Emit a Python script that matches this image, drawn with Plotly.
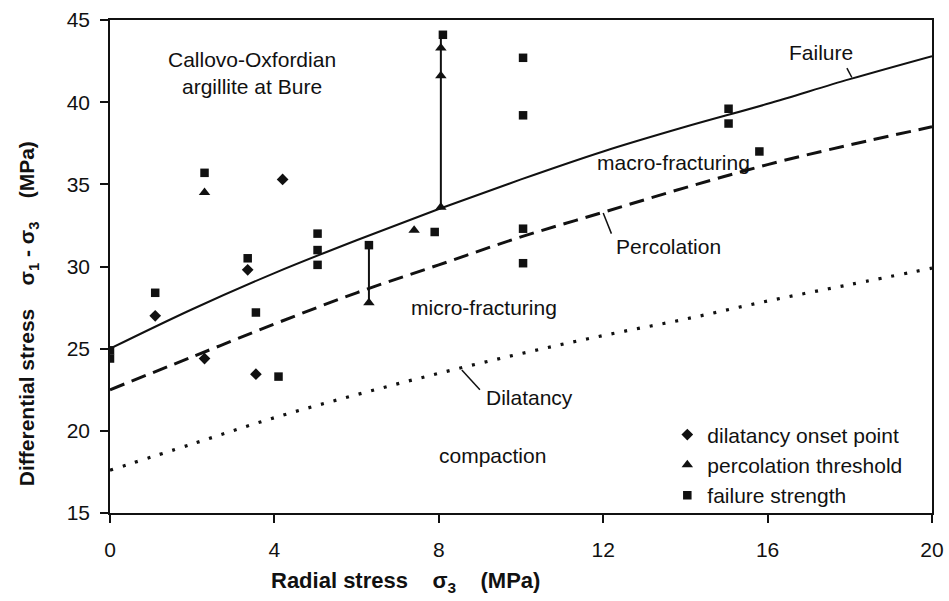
import plotly.graph_objects as go

# Envelope curves, sampled along the radial stress axis (MPa)
curve_x = [0, 2, 4, 6, 8, 10, 12, 14, 16, 18, 20]
failure_y = [25.0, 27.4, 29.6, 31.6, 33.5, 35.3, 37.0, 38.5, 39.9, 41.4, 42.8]
percolation_y = [22.5, 24.5, 26.5, 28.4, 30.1, 31.8, 33.3, 34.8, 36.2, 37.4, 38.5]
dilatancy_y = [17.6, 19.2, 20.8, 22.2, 23.5, 24.7, 25.8, 26.8, 27.9, 28.9, 29.9]

# Measured points
onset_x = [1.1, 2.3, 3.35, 3.55, 4.2]
onset_y = [27.0, 24.4, 29.8, 23.45, 35.3]

perc_x = [2.3, 6.3, 7.4, 8.05, 8.05, 8.05]
perc_y = [34.5, 27.8, 32.2, 33.6, 41.6, 43.3]

fail_x = [0, 0, 1.1, 2.3, 3.35, 3.55, 4.1, 5.05, 5.05, 5.05, 6.3,
          7.9, 8.1, 10.05, 10.05, 10.05, 10.05, 15.05, 15.05, 15.8]
fail_y = [24.9, 24.4, 28.4, 35.7, 30.5, 27.2, 23.3, 32.0, 31.0, 30.1, 31.3,
          32.1, 44.1, 42.7, 39.2, 32.3, 30.2, 39.6, 38.7, 37.0]

# Vertical links between percolation and failure of the same sample
link_x = [6.3, 6.3, None, 8.05, 8.05]
link_y = [31.3, 27.8, None, 33.6, 44.1]

x_ticks = [0, 4, 8, 12, 16, 20]
y_ticks = [15, 20, 25, 30, 35, 40, 45]

FONT = "Liberation Sans, Arial, sans-serif"
INK = "#111111"
SP = "&nbsp;" * 4

fig = go.Figure()

fig.add_trace(go.Scatter(x=curve_x, y=failure_y, mode="lines", line_shape="spline",
                         line=dict(color=INK, width=2), showlegend=False, hoverinfo="skip"))
fig.add_trace(go.Scatter(x=curve_x, y=percolation_y, mode="lines", line_shape="spline",
                         line=dict(color=INK, width=3, dash="15px,8px"),
                         showlegend=False, hoverinfo="skip"))
fig.add_trace(go.Scatter(x=curve_x, y=dilatancy_y, mode="lines", line_shape="spline",
                         line=dict(color=INK, width=3.2, dash="3px,10px"),
                         showlegend=False, hoverinfo="skip"))
fig.add_trace(go.Scatter(x=link_x, y=link_y, mode="lines",
                         line=dict(color=INK, width=2), showlegend=False, hoverinfo="skip"))

fig.add_trace(go.Scatter(x=onset_x, y=onset_y, mode="markers", name="dilatancy onset point",
                         marker=dict(symbol="diamond", size=9, color=INK), legendgroup="a"))
fig.add_trace(go.Scatter(x=perc_x, y=perc_y, mode="markers", name="percolation threshold",
                         marker=dict(symbol="triangle-up", size=10, color=INK), legendgroup="b"))
fig.add_trace(go.Scatter(x=fail_x, y=fail_y, mode="markers", name="failure strength",
                         marker=dict(symbol="square", size=8.5, color=INK), legendgroup="c"))

ann_font = dict(family=FONT, size=21, color=INK)
labels = [
    (3.45, 41.8, "Callovo-Oxfordian<br>argillite at Bure"),
    (17.3, 43.0, "Failure"),
    (13.7, 36.3, "macro-fracturing"),
    (13.6, 31.2, "Percolation"),
    (9.1, 27.5, "micro-fracturing"),
    (10.2, 22.0, "Dilatancy"),
    (9.3, 18.5, "compaction"),
]
for lx, ly, txt in labels:
    fig.add_annotation(x=lx, y=ly, xref="x", yref="y", text=txt, showarrow=False,
                       font=ann_font, align="center")

# Short leader ticks from labels to their curves
for x0, y0, x1, y1 in [(17.93, 42.07, 18.05, 41.5),
                       (12.0, 33.25, 12.2, 32.0),
                       (8.56, 23.7, 9.0, 22.5)]:
    fig.add_shape(type="line", x0=x0, y0=y0, x1=x1, y1=y1, xref="x", yref="y",
                  line=dict(color=INK, width=1.5))

# Axis titles
fig.add_annotation(x=0.359, y=-0.172, xref="paper", yref="paper",
                   text=f"<b>Radial stress{SP}σ<sub>3</sub>{SP}(MPa)</b>", showarrow=False,
                   font=dict(family=FONT, size=22, color=INK))
fig.add_annotation(x=-0.117, y=0.405, xref="paper", yref="paper", textangle=-90,
                   text=f"<b>Differential stress{SP}σ<sub>1</sub> - σ<sub>3</sub>{SP}(MPa)</b>",
                   showarrow=False, font=dict(family=FONT, size=21, color=INK))

axis_common = dict(showline=True, mirror=True, linecolor=INK, linewidth=1.5,
                   ticks="outside", ticklen=8, tickwidth=1.5, tickcolor=INK,
                   showgrid=False, zeroline=False, automargin=False,
                   tickfont=dict(family=FONT, size=21, color=INK))

fig.update_layout(
    width=949, height=601,
    margin=dict(l=110, r=17, t=20, b=88),
    paper_bgcolor="white", plot_bgcolor="white",
    xaxis=dict(range=[0, 20], tickvals=x_ticks, ticklabelstandoff=9, **axis_common),
    yaxis=dict(range=[15, 45], tickvals=y_ticks, ticklabelstandoff=6, **axis_common),
    legend=dict(x=0.678, y=0.2, xanchor="left", yanchor="top",
                bgcolor="rgba(0,0,0,0)", tracegroupgap=0, itemwidth=30,
                font=dict(family=FONT, size=21, color=INK)),
)

fig.write_html("out.html")
